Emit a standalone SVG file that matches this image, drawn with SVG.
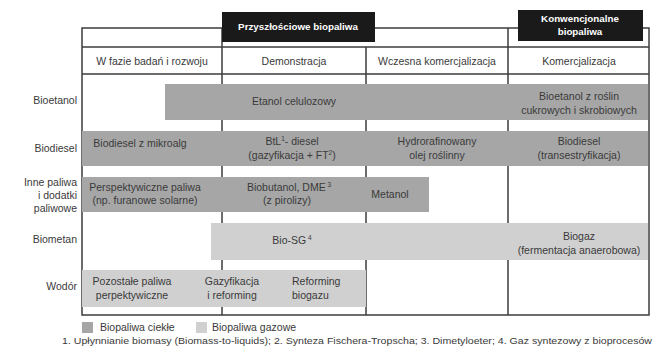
<svg xmlns="http://www.w3.org/2000/svg" width="656" height="352" viewBox="0 0 656 352">
<style>
text{font-family:"Liberation Sans",Arial,sans-serif;font-size:10.5px;fill:#3a3a3a}
.c{text-anchor:middle}
.r{text-anchor:end}
.h{fill:#ffffff;font-weight:bold;font-size:9.8px}
.dk{fill:#a6a6a6}
.lt{fill:#d0d0d0}
.ln{stroke:#3c3c3c;stroke-width:1.5;fill:none}
.blk{fill:#1a1a1a}
.fn{font-size:9.5px}
</style>
<rect width="656" height="352" fill="#ffffff"/>
<g id="grid">
<rect class="ln" x="82" y="28" width="567" height="287"/>
<line class="ln" x1="82" y1="47" x2="649" y2="47"/>
<line class="ln" x1="82" y1="74" x2="649" y2="74"/>
<line class="ln" x1="222" y1="28" x2="222" y2="315"/>
<line class="ln" x1="366" y1="47" x2="366" y2="315"/>
<line class="ln" x1="508" y1="28" x2="508" y2="315"/>
</g>
<g id="header-future">
<rect class="blk" x="222" y="12" width="153" height="30"/>
<text class="c h" x="298" y="30">Przyszłościowe biopaliwa</text>
</g>
<g id="header-conventional">
<rect class="blk" x="518" y="10" width="125" height="31"/>
<text class="c h" x="580" y="22">Konwencjonalne</text>
<text class="c h" x="580" y="35">biopaliwa</text>
</g>
<g id="stages">
<text class="c" x="152" y="65">W fazie badań i rozwoju</text>
<text class="c" x="294" y="65">Demonstracja</text>
<text class="c" x="437" y="65">Wczesna komercjalizacja</text>
<text class="c" x="579" y="65">Komercjalizacja</text>
</g>
<g id="row-labels">
<text class="r" x="77" y="104">Bioetanol</text>
<text class="r" x="77" y="152">Biodiesel</text>
<text class="r" x="77" y="186">Inne paliwa</text>
<text class="r" x="77" y="199">i dodatki</text>
<text class="r" x="77" y="212">paliwowe</text>
<text class="r" x="77" y="243">Biometan</text>
<text class="r" x="77" y="290">Wodór</text>
</g>
<g id="bioetanol">
<rect class="dk" x="165" y="84" width="483" height="36"/>
<text class="c" x="294" y="105">Etanol celulozowy</text>
<text class="c" x="579" y="100">Bioetanol z roślin</text>
<text class="c" x="579" y="114">cukrowych i skrobiowych</text>
</g>
<g id="biodiesel">
<rect class="dk" x="82" y="131" width="566" height="35"/>
<text class="c" x="140" y="147">Biodiesel z mikroalg</text>
<text class="c" x="292" y="145">BtL<tspan font-size="6.5" dy="-4">1</tspan><tspan dy="4">- diesel</tspan></text>
<text class="c" x="292" y="159">(gazyfikacja + FT<tspan font-size="6.5" dy="-4">2</tspan><tspan dy="4">)</tspan></text>
<text class="c" x="437" y="145">Hydrorafinowany</text>
<text class="c" x="437" y="159">olej roślinny</text>
<text class="c" x="579" y="145">Biodiesel</text>
<text class="c" x="579" y="159">(transestryfikacja)</text>
</g>
<g id="inne">
<rect class="dk" x="82" y="177" width="347" height="35"/>
<text class="c" x="145" y="191">Perspektywiczne paliwa</text>
<text class="c" x="145" y="204">(np. furanowe  solarne)</text>
<text class="c" x="289" y="191">Biobutanol, DME<tspan font-size="6.5" dy="-4"> 3</tspan></text>
<text class="c" x="287" y="204">(z pirolizy)</text>
<text class="c" x="390" y="198">Metanol</text>
</g>
<g id="biometan">
<rect class="lt" x="211" y="223" width="437" height="37"/>
<text class="c" x="292" y="244">Bio-SG<tspan font-size="6.5" dy="-4"> 4</tspan></text>
<text class="c" x="579" y="240">Biogaz</text>
<text class="c" x="579" y="254">(fermentacja anaerobowa)</text>
</g>
<g id="wodor">
<rect class="lt" x="82" y="270" width="284" height="37"/>
<text class="c" x="132" y="285">Pozostałe paliwa</text>
<text class="c" x="132" y="299">perpektywiczne</text>
<text class="c" x="232" y="285">Gazyfikacja</text>
<text class="c" x="232" y="299">i reforming</text>
<text x="292" y="285">Reforming</text>
<text x="292" y="299">biogazu</text>
</g>
<g id="legend">
<rect class="dk" x="82" y="322" width="11" height="11"/>
<text x="100" y="331">Biopaliwa ciekłe</text>
<rect class="lt" x="196" y="322" width="11" height="11"/>
<text x="212" y="331">Biopaliwa gazowe</text>
</g>
<text class="fn" x="62" y="344" textLength="590" lengthAdjust="spacingAndGlyphs">1. Upłynnianie biomasy (Biomass-to-liquids); 2. Synteza Fischera-Tropscha; 3. Dimetyloeter; 4. Gaz syntezowy z bioprocesów</text>
</svg>
